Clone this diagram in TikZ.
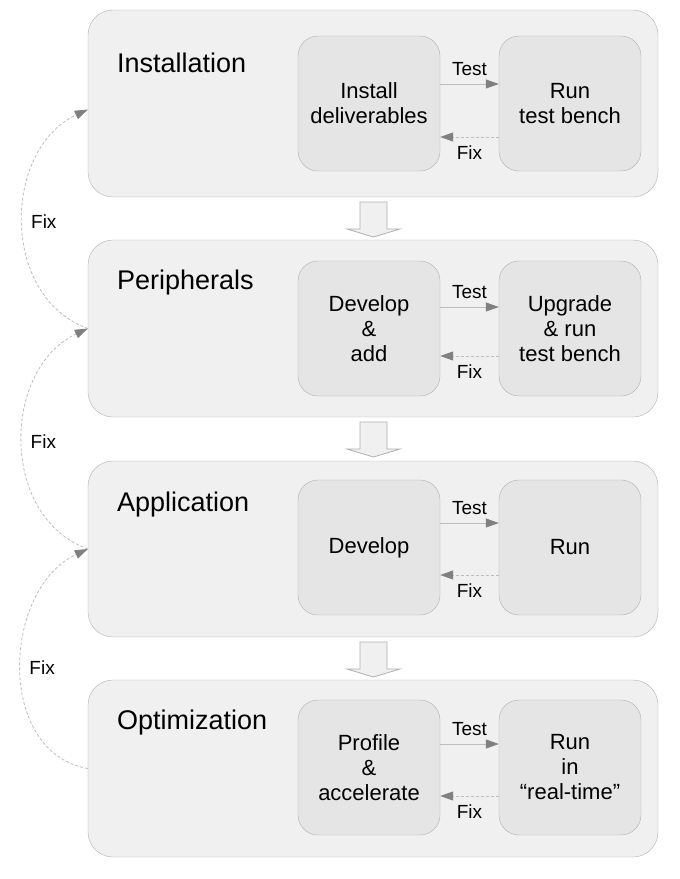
\documentclass[tikz,border=0pt]{standalone}
\usepackage{fontspec}
\setmainfont{Liberation Sans}
\usetikzlibrary{arrows.meta}
\usetikzlibrary{positioning}
\usetikzlibrary{calc}
\definecolor{stagefill}{HTML}{F0F0F0}
\definecolor{taskfill}{HTML}{E5E5E5}
\definecolor{boxline}{HTML}{B0B0B0}
\definecolor{tipgray}{HTML}{808080}
\definecolor{linegray}{HTML}{BDBDBD}
\tikzset{
    stage/.style={draw=boxline, fill=stagefill, rounded corners=25pt,
        minimum width=570pt, inner sep=0pt},
    stagetitle/.style={anchor=west, inner sep=0pt, font=\fontsize{27}{30}\selectfont},
    task/.style={draw=boxline, fill=taskfill, rounded corners=20pt,
        minimum width=142pt, minimum height=135pt, align=center,
        font=\fontsize{22}{25}\selectfont},
    flowlabel/.style={font=\fontsize{19}{22}\selectfont, inner sep=2pt},
    testline/.style={draw=linegray, line width=1pt,
        -{Triangle[length=13pt,width=9pt,color=tipgray]}},
    fixline/.style={draw=linegray, line width=1pt, dash pattern=on 3pt off 2pt,
        -{Triangle[length=13pt,width=9pt,color=tipgray]}},
    loopline/.style={draw=linegray, line width=0.8pt, dash pattern=on 3pt off 2pt,
        -{Triangle[length=13pt,width=9pt,color=tipgray]}},
    bigarrow/.style={draw=boxline, fill=stagefill, line width=0.8pt},
}

\begin{document}
\begin{tikzpicture}[x=1pt, y=-1pt]
\useasboundingbox (0,0) rectangle (680,879);

% the four stages
\node[stage, minimum height=187pt] (inst) at (373,103.5) {};
\node[stage, minimum height=177pt] (peri) at (373,328.5) {};
\node[stage, minimum height=176pt] (appl) at (373,549) {};
\node[stage, minimum height=177pt] (opti) at (373,768.5) {};

\node[stagetitle] (instT) at ([xshift=29pt,yshift=-53pt]inst.north west) {Installation};
\node[stagetitle] (periT) at ([xshift=29pt,yshift=-43pt]peri.north west) {Peripherals};
\node[stagetitle] (applT) at ([xshift=29pt,yshift=-44pt]appl.north west) {Application};
\node[stagetitle] (optiT) at ([xshift=29pt,yshift=-43pt]opti.north west) {Optimization};

% tasks inside each stage
\node[task] (install) at (369,103.5) {Install\\deliverables};
\node[task] (runbench) at (570,103.5) {Run\\test bench};
\node[task] (develadd) at (369,328.5) {Develop\\\&\\add};
\node[task] (upgrade) at (570,328.5) {Upgrade\\\& run\\test bench};
\node[task] (develop) at (369,547.5) {Develop};
\node[task] (run) at (570,547.5) {Run};
\node[task] (profile) at (369,767.5) {Profile\\\&\\accelerate};
\node[task] (runrt) at (570,767.5) {Run\\in\\``real-time''};

% test / fix
\draw[testline] ([yshift=19.5pt]install.east) -- node[flowlabel, above=6pt] (test1) {Test} ([yshift=19.5pt]runbench.west);
\draw[fixline] ([yshift=-33.5pt]runbench.west) -- node[flowlabel, below=6pt] (fix1) {Fix} ([yshift=-33.5pt]install.east);
\draw[testline] ([yshift=21.5pt]develadd.east) -- node[flowlabel, above=6pt] (test2) {Test} ([yshift=21.5pt]upgrade.west);
\draw[fixline] ([yshift=-27.5pt]upgrade.west) -- node[flowlabel, below=6pt] (fix2) {Fix} ([yshift=-27.5pt]develadd.east);
\draw[testline] ([yshift=24.5pt]develop.east) -- node[flowlabel, above=6pt] (test3) {Test} ([yshift=24.5pt]run.west);
\draw[fixline] ([yshift=-27.5pt]run.west) -- node[flowlabel, below=6pt] (fix3) {Fix} ([yshift=-27.5pt]develop.east);
\draw[testline] ([yshift=23.5pt]profile.east) -- node[flowlabel, above=6pt] (test4) {Test} ([yshift=23.5pt]runrt.west);
\draw[fixline] ([yshift=-28.5pt]runrt.west) -- node[flowlabel, below=6pt] (fix4) {Fix} ([yshift=-28.5pt]profile.east);

% big arrows between stages
\foreach \t in {202,422,642}
    \draw[bigarrow] (360,\t) -- (387,\t) -- (387,\t+27) -- (400,\t+27)
        -- (373.5,\t+35) -- (347,\t+27) -- (360,\t+27) -- cycle;

% fix loops back to the previous stage
\draw[loopline] (peri.west) to[out=160,in=205,looseness=1.1] node[flowlabel, pos=0.5, right=6pt] (loop1) {Fix} ([yshift=-6pt]inst.west);
\draw[loopline] (appl.west) to[out=160,in=205,looseness=1.1] node[flowlabel, pos=0.5, right=6pt] (loop2) {Fix} (peri.west);
\draw[loopline] (opti.west) to[out=170,in=205,looseness=1.1] node[flowlabel, pos=0.5, right=6pt] (loop3) {Fix} (appl.west);
\end{tikzpicture}
\end{document}
